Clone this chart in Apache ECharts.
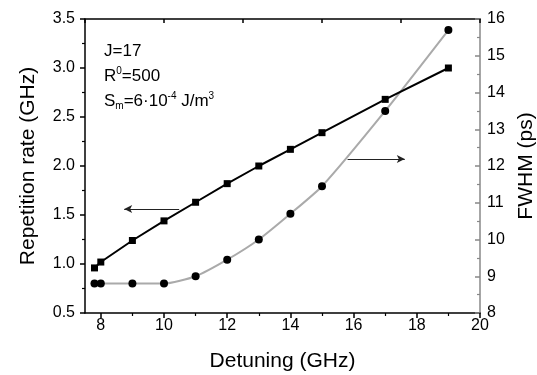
<!DOCTYPE html>
<html>
<head>
<meta charset="utf-8">
<script src="https://cdn.jsdelivr.net/npm/echarts@6/dist/echarts.min.js"></script>
<style>html,body{margin:0;padding:0;background:#fff;}#c{width:537px;height:375px;}</style>
</head>
<body>
<div id="c"></div>
<script>
// Data
const detuning = [7.8, 8, 9, 10, 11, 12, 13, 14, 15, 17, 19];
const repRate = [0.96, 1.02, 1.24, 1.44, 1.63, 1.82, 2.00, 2.17, 2.34, 2.68, 3.00];
const fwhm = [8.8, 8.8, 8.8, 8.8, 9.0, 9.45, 10.0, 10.7, 11.45, 13.5, 15.7];
const xMajorTicks = [8, 10, 12, 14, 16, 18, 20];
const xMinorTicks = [9, 11, 13, 15, 17, 19];
// arrow annotations (data units)
const leftArrow = {y: 1.56, from: 10.48, to: 8.74};
const rightArrow = {y: 12.19, from: 15.81, to: 17.62};

const FONT = 'Liberation Sans, Arial, sans-serif';
const chart = echarts.init(document.getElementById('c'), null, {renderer: 'canvas'});

const repData = detuning.map((x, i) => [x, repRate[i]]);
const fwhmData = detuning.map((x, i) => [x, fwhm[i]]);

chart.setOption({
  animation: false,
  backgroundColor: '#fff',
  textStyle: {fontFamily: FONT},
  grid: {left: 85, right: 57, top: 19, bottom: 62, containLabel: false, outerBoundsMode: 'none'},
  xAxis: [
    {
      type: 'value', position: 'bottom', min: 7.5, max: 20,
      name: 'Detuning (GHz)', nameLocation: 'middle', nameGap: 38,
      nameTextStyle: {fontSize: 21, color: '#000', fontFamily: FONT},
      axisLine: {show: true, lineStyle: {color: '#000', width: 1.5}},
      axisTick: {show: true, inside: false, length: 5, customValues: xMajorTicks, lineStyle: {color: '#000', width: 1.5}},
      axisLabel: {customValues: xMajorTicks, fontSize: 16, color: '#000', margin: 5, fontFamily: FONT},
      splitLine: {show: false}
    },
    {
      type: 'value', position: 'bottom', min: 7.5, max: 20,
      axisLine: {show: false},
      axisTick: {show: true, inside: false, length: 3, customValues: xMinorTicks, lineStyle: {color: '#000', width: 1.2}},
      axisLabel: {show: false},
      splitLine: {show: false}
    },
    {
      type: 'value', position: 'top', min: 7.5, max: 20, interval: 2.5,
      axisLine: {show: true, lineStyle: {color: '#000', width: 1.5}},
      axisTick: {show: true, inside: true, length: 4, lineStyle: {color: '#000', width: 1.5}},
      axisLabel: {show: false},
      splitLine: {show: false}
    }
  ],
  yAxis: [
    {
      type: 'value', position: 'left', min: 0.5, max: 3.5, interval: 0.5,
      name: 'Repetition rate (GHz)', nameLocation: 'middle', nameGap: 46, nameRotate: 90,
      nameTextStyle: {fontSize: 21, color: '#000', fontFamily: FONT},
      axisLine: {show: true, lineStyle: {color: '#000', width: 1.5}},
      axisTick: {show: true, inside: false, length: 5, lineStyle: {color: '#000', width: 1.5}},
      minorTick: {show: true, splitNumber: 2, length: 3, lineStyle: {color: '#000', width: 1.2}},
      axisLabel: {fontSize: 16, color: '#000', margin: 10, fontFamily: FONT, formatter: v => v.toFixed(1)},
      splitLine: {show: false}
    },
    {
      type: 'value', position: 'right', min: 8, max: 16, interval: 1,
      name: 'FWHM (ps)', nameLocation: 'middle', nameGap: 29, nameRotate: 90,
      nameTextStyle: {fontSize: 21, color: '#000', fontFamily: FONT},
      axisLine: {show: true, lineStyle: {color: '#888', width: 1.5}},
      axisTick: {show: true, inside: true, length: 5, lineStyle: {color: '#888', width: 1.5}},
      minorTick: {show: true, splitNumber: 2, length: 3, lineStyle: {color: '#888', width: 1.2}},
      axisLabel: {fontSize: 16, color: '#000', margin: 7, fontFamily: FONT},
      splitLine: {show: false}
    }
  ],
  series: [
    {
      type: 'line', name: 'rep', xAxisIndex: 0, yAxisIndex: 0,
      data: repData,
      symbol: 'rect', symbolSize: 7,
      itemStyle: {color: '#000'},
      lineStyle: {color: '#000', width: 2},
      z: 3,
      markLine: {
        silent: true, symbol: ['none', 'arrow'], symbolSize: [6, 8],
        label: {show: false},
        lineStyle: {color: '#222', width: 1, type: 'solid'},
        data: [[{coord: [leftArrow.from, leftArrow.y]}, {coord: [leftArrow.to, leftArrow.y]}]]
      }
    },
    {
      type: 'line', name: 'fwhm', xAxisIndex: 0, yAxisIndex: 1,
      data: fwhmData,
      smooth: 0.2,
      symbol: 'circle', symbolSize: 8,
      itemStyle: {color: '#000'},
      lineStyle: {color: '#aaa', width: 2},
      z: 2,
      markLine: {
        silent: true, symbol: ['none', 'arrow'], symbolSize: [6, 8],
        label: {show: false},
        lineStyle: {color: '#222', width: 1, type: 'solid'},
        data: [[{coord: [rightArrow.from, rightArrow.y]}, {coord: [rightArrow.to, rightArrow.y]}]]
      }
    }
  ],
  graphic: [
    {
      type: 'text', left: 104, top: 39,
      style: {
        text: 'J=17\nR{sup|0}=500\nS{sub|m}=6·10{sup|-4} J/m{sup|3}',
        fontSize: 17, fontFamily: FONT, fill: '#000', lineHeight: 25,
        rich: {
          sup: {fontSize: 10, fontFamily: FONT, fill: '#000', padding: [0, 0, 10, 0], lineHeight: 25},
          sub: {fontSize: 10, fontFamily: FONT, fill: '#000', padding: [10, 0, 0, 0], lineHeight: 25}
        }
      }
    }
  ]
});
</script>
</body>
</html>
